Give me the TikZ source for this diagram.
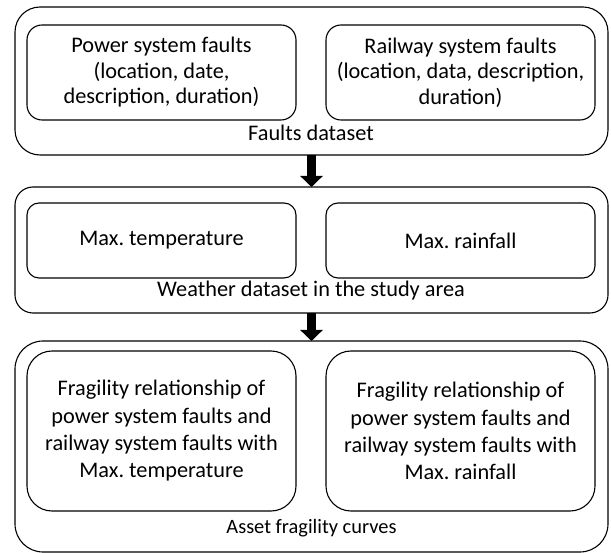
\documentclass[tikz,border=0pt]{standalone}
\usepackage{fontspec}
\setmainfont{Carlito}
\usetikzlibrary{arrows.meta}
\begin{document}
\begin{tikzpicture}[x=1pt,y=-1pt,
  box/.style={draw, line width=1.1pt, rectangle, inner sep=0pt, outer sep=0pt, align=center,
    font=\frenchspacing\fontsize{22.3}{25.5}\selectfont},
  lbl/.style={inner sep=0pt, font=\frenchspacing\fontsize{22.3}{24}\selectfont},
  blockarrow/.style={line width=8.5pt, -{Triangle[width=22pt,length=11pt]}}]
\useasboundingbox (0,0) rectangle (611,553);
% group 1
\node[box, rounded corners=25pt, minimum width=593pt, minimum height=148pt] (o1) at (311.5,81) {};
\node[box, rounded corners=15pt, minimum width=269pt, minimum height=95pt] (p1) at (161.5,72.5)
  {Power system faults\\(location, date,\\description, duration)};
\node[box, rounded corners=15pt, minimum width=269pt, minimum height=95pt] (r1) at (460.5,72.5)
  {Railway system faults\\(location, data, description,\\duration)};
\node[lbl] (l1) at (311,133) {Faults dataset};
% group 2
\node[box, rounded corners=18pt, minimum width=593pt, minimum height=126pt] (o2) at (311.5,250) {};
\node[box, rounded corners=12pt, minimum width=269pt, minimum height=75pt] (t2) at (161.5,240.5)
  {Max. temperature};
\node[box, rounded corners=12pt, minimum width=269pt, minimum height=75pt] (f2) at (460.5,240.5)
  {Max. rainfall};
\node[lbl] (l2) at (311,291) {Weather dataset in the study area};
% group 3
\node[box, rounded corners=28pt, minimum width=593pt, minimum height=211pt] (o3) at (311.5,446.5) {};
\node[box, rounded corners=25pt, minimum width=269pt, minimum height=160pt, font=\frenchspacing\fontsize{22.3}{27.3}\selectfont] (t3) at (161.5,431)
  {Fragility relationship of\\power system faults and\\railway system faults with\\Max. temperature};
\node[box, rounded corners=25pt, minimum width=269pt, minimum height=160pt, font=\frenchspacing\fontsize{22.3}{27.3}\selectfont] (f3) at (460.5,431)
  {Fragility relationship of\\power system faults and\\railway system faults with\\Max. rainfall};
\node[lbl, font=\frenchspacing\fontsize{20.4}{22}\selectfont] (l3) at (311.5,528) {Asset fragility curves};
% arrows
\draw[blockarrow] (o1.south) -- (o2.north);
\draw[blockarrow] (o2.south) -- (o3.north);
\end{tikzpicture}
\end{document}
